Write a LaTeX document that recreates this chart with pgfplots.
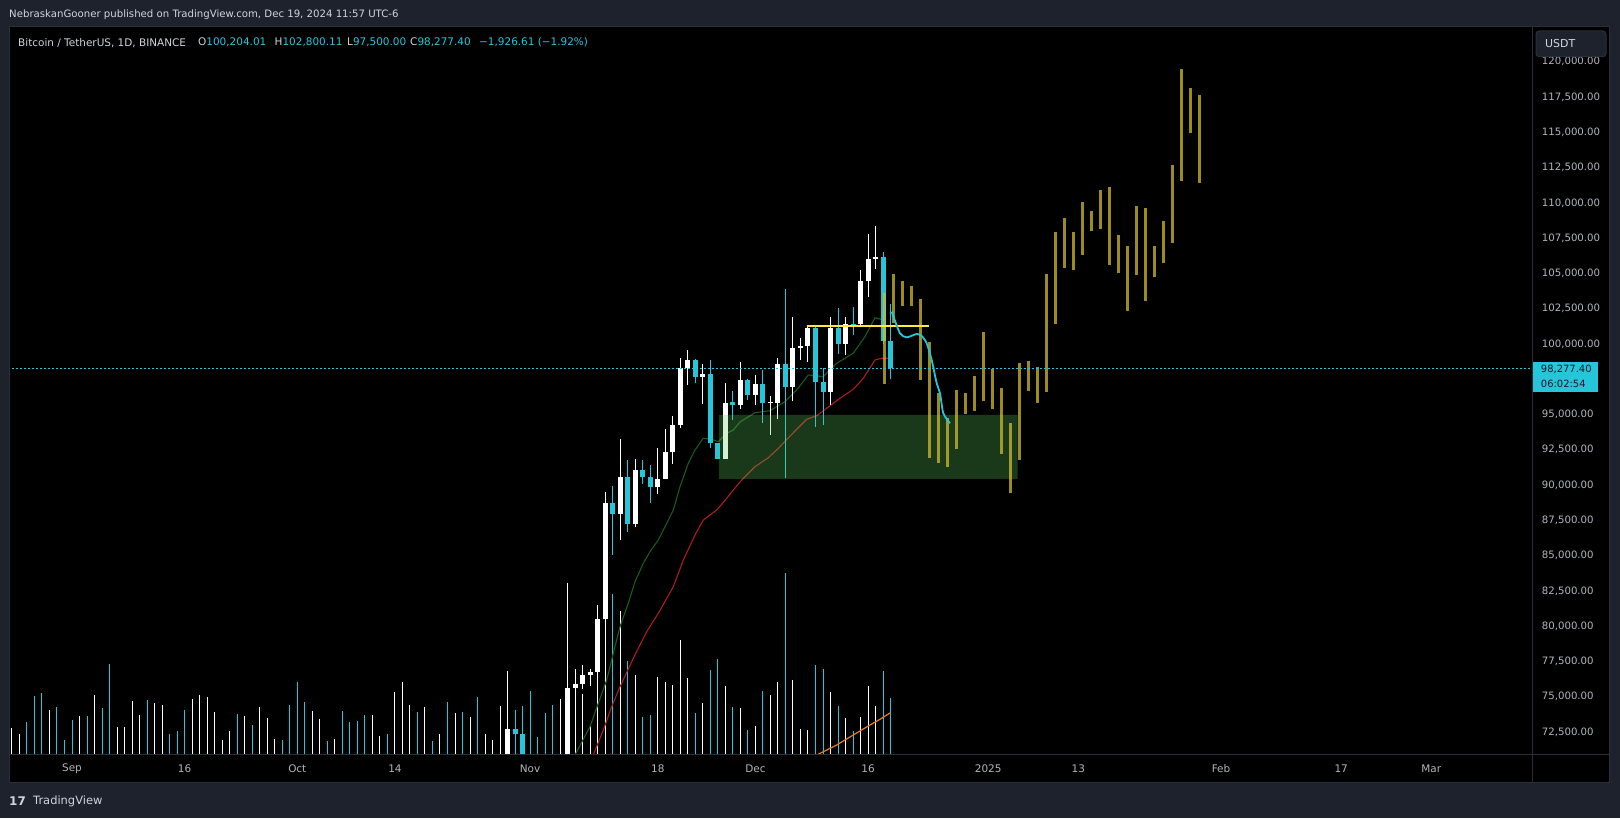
\documentclass[border=0pt]{standalone}
\usepackage{pgfplots}
\pgfplotsset{compat=1.18}
\usepackage{pgfplotstable}
\usetikzlibrary{backgrounds}
\usepackage{fontspec}
\setmainfont{DejaVu Sans}
\definecolor{tvbg}{RGB}{30,34,45}
\definecolor{tvline}{RGB}{42,46,57}
\definecolor{tvtxt}{RGB}{209,212,220}
\definecolor{tvtick}{RGB}{178,181,190}
\definecolor{tvcyan}{RGB}{38,198,218}
\definecolor{tvolive}{RGB}{207,187,40}
\definecolor{magreen}{RGB}{24,92,28}
\definecolor{mared}{RGB}{175,26,26}
\definecolor{boxgreen}{RGB}{96,207,96}
\definecolor{tvyellow}{RGB}{255,235,59}
\definecolor{tvorange}{RGB}{239,125,30}
\definecolor{tagtxt}{RGB}{19,23,34}

% daily candles, day 0 = 1 Sep 2024
\pgfplotstableread{
d o h l c
58 69910 73620 69700 72720
66 69359 76460 69322 75640
67 75640 76943 74480 75904
68 75904 77239 75560 76545
69 76545 76932 75773 76778
70 76778 81500 76492 80474
71 80474 89530 80216 88701
73 87955 93265 86127 90584
75 87250 91850 87000 91066
78 89843 92594 89376 90464
79 90465 94002 90406 92310
80 92310 94902 91500 94286
81 94286 98974 94043 98317
82 98317 99588 97122 98892
84 97672 98564 95735 97900
87 91850 97200 91817 95818
89 95643 98693 95360 97460
91 96407 97836 95693 97185
93 95840 96305 93578 95900
94 95850 99000 94660 98587
96 96945 101898 95981 99740
97 99740 100439 98844 99831
98 99831 101350 98690 101109
101 96593 101895 95688 101125
103 100000 101895 99205 101424
105 101420 105250 101234 104463
106 104463 107780 103333 106058
107 106058 108353 105321 106133
}\candup
\pgfplotstableread{
d o h l c
59 72720 72960 71400 72340
60 72340 72700 69600 70290
61 70290 71600 68800 69500
72 88701 89956 85072 87955
74 90584 91765 86668 87250
76 91066 91779 90056 90558
77 90558 91449 88722 89845
83 98892 98919 97232 97672
85 97900 98871 92600 93010
86 93010 93010 91850 91850
88 95863 96650 94600 95643
90 97460 97499 96000 96407
92 97185 98130 94395 95840
95 98587 103900 90500 96945
99 101109 101215 94150 97276
100 97276 98270 94256 96593
102 101125 102540 99311 100000
104 101424 102650 100609 101300
108 106133 106524 100000 100204
109 100204.01 102800.11 97500 98277.40
}\canddn
% projected bars (day, high, low)
\pgfplotstableread{
d hi lo
108.16 103594 97143
109.36 104961 101510
110.56 104465 102693
111.76 104111 102693
112.96 103189 97448
114.15 100142 91941
115.35 96548 91587
116.55 94755 91304
117.75 96740 92579
118.95 96548 95060
120.15 97732 95273
121.34 100851 95981
122.54 98228 95414
123.74 96881 92225
124.94 94401 89461
126.14 98653 91800
127.34 98795 96690
128.54 98370 95840
129.73 104961 96619
130.93 107938 101439
132.13 108930 105408
133.33 107938 105266
134.53 110064 106329
135.73 109427 108030
136.92 110915 108172
138.12 111128 105620
139.32 107725 105053
140.52 106946 102360
141.72 109781 104912
142.92 109639 103069
144.11 106946 104770
145.31 108718 105762
146.51 112687 107180
147.71 119491 111574
148.91 118144 114976
150.11 117648 111432
}\proj
% volume (relative units, bottom pane overlay)
\pgfplotstableread{
d v
-8 27
-7 21
-3 45
1 39
3 60
6 28
7 28
8 54
9 40
11 52
12 50
16 56
17 60
18 58
19 43
20 15
21 24
23 39
25 48
26 37
27 16
32 44
33 36
35 16
40 40
41 19
43 63
44 73
45 50
47 48
49 21
51 42
53 38
55 21
56 15
57 49
58 84
65 56
66 172
67 75
68 61
69 29
70 100
71 160
73 144
75 80
78 78
79 73
80 70
81 115
82 77
84 52
87 69
89 47
91 29
93 60
94 73
96 75
97 26
98 25
101 63
103 37
105 38
106 69
107 49
}\volup
\pgfplotstableread{
d v
-6 33
-5 59
-4 62
-2 48
-1 15
0 35
2 39
4 47
5 91
10 55
13 21
14 24
15 45
22 41
24 30
28 15
29 50
30 73
31 53
34 14
36 44
37 33
38 34
39 40
42 21
46 43
48 14
50 53
52 43
54 58
59 45
60 49
61 64
62 18
63 42
64 50
72 161
74 94
76 38
77 40
83 42
85 85
86 96
88 48
90 25
92 64
95 182
99 90
100 86
102 49
104 24
108 84
109 57
}\voldn
\pgfplotstableread{
d v
97.7 -6
99.16 0
101.82 10
104.03 20
106.26 30
107.59 35.7
108.92 42
}\volma

\pgfplotsset{
  candle/.style={only marks, mark size=0pt, mark options={draw opacity=0, fill opacity=0}, forget plot,
    error bars/.cd, y dir=plus, y explicit, error mark=none,
    error bar style={draw=#1}},
}

\begin{document}
\begin{tikzpicture}[x=1bp,y=1bp]
\begin{axis}[scale only axis,
  width=1522bp, height=728bp,
  xmin=-8.256, xmax=194.41, ymin=70870, ymax=122468,
  axis line style={draw=none}, tick style={draw=none}, major tick length=0pt,
  xtick={0,15,30,43,61,78,91,106,122,134,153,169,181},
  xticklabels={Sep,16,Oct,14,Nov,18,Dec,16,2025,13,Feb,17,Mar},
  xticklabel style={font=\fontsize{10.5}{12}\selectfont, text=tvtick, anchor=center, inner sep=0pt, yshift=-14bp},
  ytick={72500,75000,77500,80000,82500,85000,87500,90000,92500,95000,100000,102500,105000,107500,110000,112500,115000,117500,120000},
  scaled y ticks=false,
  yticklabel pos=right,
  yticklabel={\pgfmathprintnumber[fixed,fixed zerofill,precision=2,1000 sep={,},assume math mode=true]{\tick}},
  yticklabel style={font=\fontsize{10.2}{12}\selectfont, text=tvtick, anchor=west, inner sep=0pt, xshift=9.7bp},
  ]
  % volume overlay (1 unit = 1 px of pane height)
  \addplot[candle={white, line width=1bp}]
    table[x=d, y expr=70870, y error expr=\thisrow{v}*70.876] {\volup};
  \addplot[candle={tvcyan, line width=1bp}]
    table[x=d, y expr=70870, y error expr=\thisrow{v}*70.876] {\voldn};
  \addplot[tvorange, line width=1.2bp, mark=none]
    table[x=d, y expr=70870+\thisrow{v}*70.876] {\volma};
  % moving averages
  \addplot[magreen, line width=1.1bp, mark=none] coordinates {
    (66.0,69800) (66.98,70870) (68.97,72876) (70.08,74534) (71.2,76186) (72.08,78078) (72.97,79963)
    (74.07,81622) (74.97,83153) (76.07,84457) (76.96,85279) (78.07,86108) (78.96,87051)
    (80.07,88235) (80.96,89886) (82.06,91544) (82.96,92487) (84.06,93316) (85.18,93245)
    (86.06,93075) (87.18,93671) (88.06,93905) (88.95,94472) (90.95,95131) (92.94,95273)
    (94.94,95910) (96.5,96740) (98.04,97803) (100.04,97682) (101.82,98632) (104.03,99341)
    (105.59,100517) (106.92,101864) (108.03,101701)};
  \addplot[mared, line width=1.1bp, mark=none] coordinates {
    (68.5,69800) (69.41,70870) (70.75,72642) (71.86,74293) (72.97,75711) (74.74,77724)
    (76.52,79609) (78.07,80913) (80.07,82798) (81.4,84691) (82.96,86463) (84.06,87526)
    (85.85,88235) (87.18,89064) (88.06,89652) (89.18,90361) (90.95,91303) (92.72,91941)
    (94.05,92608) (95.61,93479) (97.83,94663) (99.16,94918) (100.49,95443) (102.26,96151)
    (104.03,96789) (105.37,97569) (106.92,98866) (107.82,98986) (108.7,98986)};
  % candle wicks
  \addplot[candle={white, line width=1bp}]
    table[x=d, y=l, y error expr=\thisrow{h}-\thisrow{l}] {\candup};
  \addplot[candle={tvcyan, line width=1bp}]
    table[x=d, y=l, y error expr=\thisrow{h}-\thisrow{l}] {\canddn};
  % candle bodies
  \addplot[candle={white, line width=5bp}]
    table[x=d, y=o, y error expr=\thisrow{c}-\thisrow{o}] {\candup};
  \addplot[candle={tvcyan, line width=5bp}]
    table[x=d, y=c, y error expr=\thisrow{o}-\thisrow{c}] {\canddn};
  % demand zone
  \addplot[fill=boxgreen, fill opacity=0.28, draw=none, mark=none] coordinates {
    (86.15,90432) (125.9,90432) (125.9,94968) (86.15,94968) (86.15,90432)};
  % projected bars
  \addplot[candle={tvolive, draw opacity=0.75, line width=3bp}]
    table[x=d, y=lo, y error expr=\thisrow{hi}-\thisrow{lo}] {\proj};
  % level line
  \addplot[tvyellow, line width=2bp, mark=none] coordinates {(97.9,101297) (114.1,101297)};
  % projected average
  \addplot[tvcyan, line width=1.8bp, mark=none, smooth, tension=0.4] coordinates {
    (109.15,102289) (110.25,100758) (111.15,100475) (112.48,100709) (113.14,100567)
    (113.81,100050) (114.47,98866) (115.14,97215) (115.58,96506) (116.02,95088) (116.91,94380)};
  % last price line
  \addplot[tvcyan, line width=1bp, mark=none, dash pattern=on 1.5bp off 2.5bp] coordinates {
    (-9,98277.4) (195,98277.4)};
  \coordinate (PSW) at (rel axis cs:0,0);
\end{axis}

\begin{scope}[shift={(PSW)}]
\begin{scope}[shift={(-10,-63)}]
\begin{scope}[on background layer]
\fill[tvbg] (0,0) rectangle (1620,818);
\fill[black] (10,36) rectangle (1609,791);
\draw[tvline, line width=1bp] (9.5,35.5) rectangle (1609.5,791.5);
\end{scope}

% separators
\draw[tvline, line width=1bp] (10,63) -- (1609,63);
\draw[tvline, line width=1bp] (1532,36) -- (1532,791);

% header texts
\node[anchor=west, inner sep=0pt, text=tvtxt, font=\fontsize{10.2}{12}\selectfont] at (9,803)
  {NebraskanGooner published on TradingView.com, Dec 19, 2024 11:57 UTC-6};
\begin{scope}[every node/.style={anchor=west, inner sep=0pt, font=\fontsize{10.5}{12}\selectfont}]
\node[text=tvtxt] at (18,775.3) {Bitcoin / TetherUS, 1D, BINANCE};
\node[text=tvtxt] at (198,775.3) {O\textcolor{tvcyan}{100,204.01}};
\node[text=tvtxt] at (274.5,775.3) {H\textcolor{tvcyan}{102,800.11}};
\node[text=tvtxt] at (347,775.3) {L\textcolor{tvcyan}{97,500.00}};
\node[text=tvtxt] at (410,775.3) {C\textcolor{tvcyan}{98,277.40}};
\node[text=tvcyan] at (479,775.3) {−1,926.61 (−1.92\%)};
\end{scope}

% USDT box
\fill[tvbg, rounded corners=3bp] (1536,761.3) rectangle (1606,787);
\draw[tvline, line width=1bp, rounded corners=3bp] (1536,761.3) rectangle (1606,787);
\node[anchor=west, inner sep=0pt, text=tvtxt, font=\fontsize{11}{12}\selectfont] at (1545,774) {USDT};

% price tag
\fill[tvcyan] (1532.7,425.7) rectangle (1598,456.3);
\node[anchor=west, inner sep=0pt, text=tagtxt, font=\fontsize{10}{12}\selectfont] at (1540.7,449) {98,277.40};
\node[anchor=west, inner sep=0pt, text=tagtxt, font=\fontsize{10}{12}\selectfont] at (1540.7,434.5) {06:02:54};

% logo
\node[anchor=west, inner sep=0pt, text=tvtxt, font=\fontsize{12}{12}\selectfont\bfseries] at (9,17) {17};
\node[anchor=west, inner sep=0pt, text=tvtxt, font=\fontsize{11.5}{12}\selectfont] at (33,17) {TradingView};

\pgfresetboundingbox
\useasboundingbox (0,0) rectangle (1620,818);
\end{scope}
\end{scope}
\end{tikzpicture}
\end{document}
